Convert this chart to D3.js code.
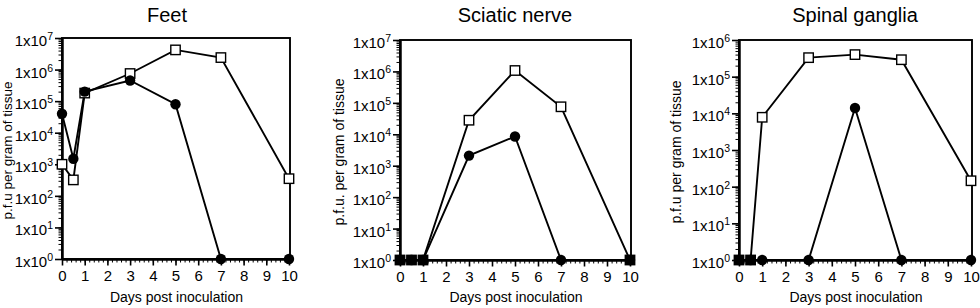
<!DOCTYPE html>
<html>
<head>
<meta charset="utf-8">
<script src="https://cdn.jsdelivr.net/npm/d3@7"></script>
<style>
  body { margin: 0; background: #fff; }
  svg { display: block; font-family: "Liberation Sans", Arial, Helvetica, sans-serif; }
  .axis path, .axis line { stroke: #000; }
  .axis text { font-size: 15px; fill: #000; }
</style>
</head>
<body>
<div id="chart"></div>
<script>
// days sampled (same for every panel)
var days = [0, 0.5, 1, 3, 5, 7, 10];
var xTickLabels = [0, 1, 2, 3, 4, 5, 6, 7, 8, 9, 10];

// p.f.u. per gram of tissue, filled circles and open squares
var feetCircles    = [4e4, 1.5e3, 2e5, 4.5e5, 8e4, 1, 1];
var feetSquares    = [1e3, 3.2e2, 1.8e5, 7.5e5, 4.2e6, 2.4e6, 3.5e2];
var sciaticCircles = [1, 1, 1, 2.1e3, 8.5e3, 1, 1];
var sciaticSquares = [1, 1, 1, 2.8e4, 1.07e6, 7.5e4, 1];
var spinalCircles  = [1, 1, 1, 1, 1.4e4, 1, 1];
var spinalSquares  = [1, 1, 7.8e3, 3.3e5, 4e5, 2.9e5, 1.45e2];

var titles = ["Feet", "Sciatic nerve", "Spinal ganglia"];
var yLabels = ["p.f.u per gram of tissue", "p.f.u. per gram of tissue", "p.f.u per gram of tissue"];
var yMaxExp = [7, 7, 6];

// panel boxes (pixels)
var panels = [
    {left: 62, right: 289, top: 38, bottom: 259, titleX: 167, yLabX: 11.5, yLabSize: 13.5},
    {left: 400, right: 630, top: 40, bottom: 260, titleX: 515, yLabX: 344, yLabSize: 14},
    {left: 739, right: 971, top: 40, bottom: 260, titleX: 855, yLabX: 681, yLabSize: 14}
];
var circleSets = [feetCircles, sciaticCircles, spinalCircles];
var squareSets = [feetSquares, sciaticSquares, spinalSquares];

var svg = d3.select("#chart").append("svg")
    .attr("width", 980)
    .attr("height", 308);

panels.forEach(function (p, i) {
    var g = svg.append("g");

    var x = d3.scaleLinear().domain([0, 10]).range([p.left, p.right]);
    var y = d3.scaleLog().domain([1, Math.pow(10, yMaxExp[i])]).range([p.bottom, p.top]);

    // frame
    g.append("rect")
        .attr("x", p.left)
        .attr("y", p.top)
        .attr("width", p.right - p.left + 1)
        .attr("height", p.bottom - p.top)
        .attr("fill", "none")
        .attr("stroke", "#000")
        .attr("stroke-width", 1.9);

    // minor x ticks
    g.append("g")
        .attr("class", "axis")
        .attr("transform", "translate(0," + p.bottom + ")")
        .call(d3.axisBottom(x).tickValues(x.ticks(50)).tickSize(3.5).tickFormat(""))
        .call(function (a) { a.select(".domain").remove(); })
        .selectAll("line").attr("stroke-width", 1);

    // major x ticks
    var xa = g.append("g")
        .attr("class", "axis")
        .attr("transform", "translate(0," + p.bottom + ")")
        .call(d3.axisBottom(x).tickValues(xTickLabels).tickSize(6.5).tickPadding(5).tickSizeOuter(0));
    xa.select(".domain").attr("stroke-width", 2.5);
    xa.selectAll("line").attr("stroke-width", 1.6);

    // minor y ticks
    g.append("g")
        .attr("class", "axis")
        .attr("transform", "translate(" + p.left + ",0)")
        .call(d3.axisLeft(y).tickValues(y.ticks()).tickSize(3.5).tickFormat(""))
        .call(function (a) { a.select(".domain").remove(); })
        .selectAll("line").attr("stroke-width", 1);

    // major y ticks
    var majors = d3.range(0, yMaxExp[i] + 1).map(function (e) { return Math.pow(10, e); });
    var ya = g.append("g")
        .attr("class", "axis")
        .attr("transform", "translate(" + p.left + ",0)")
        .call(d3.axisLeft(y).tickValues(majors).tickSize(7).tickSizeOuter(0).tickFormat(""));
    ya.select(".domain").attr("stroke-width", 2.5);
    ya.selectAll("line").attr("stroke-width", 1.6);

    // y tick labels 1x10^n
    majors.forEach(function (v) {
        var t = g.append("text")
            .attr("x", p.left - 9)
            .attr("y", y(v) + 8)
            .attr("text-anchor", "end")
            .attr("font-size", 15);
        t.append("tspan").text("1x10");
        t.append("tspan")
            .attr("font-size", 10.5)
            .attr("dy", -6)
            .text(Math.round(Math.log10(v)));
    });

    // title
    g.append("text")
        .attr("x", p.titleX)
        .attr("y", 22)
        .attr("text-anchor", "middle")
        .attr("font-size", 20)
        .text(titles[i]);

    // x label
    g.append("text")
        .attr("x", (p.left + p.right) / 2 + 1)
        .attr("y", 302)
        .attr("text-anchor", "middle")
        .attr("font-size", 14)
        .text("Days post inoculation");

    // y label
    g.append("text")
        .attr("transform", "translate(" + p.yLabX + "," + ((p.top + p.bottom) / 2 + 2) + ") rotate(-90)")
        .attr("text-anchor", "middle")
        .attr("font-size", p.yLabSize)
        .text(yLabels[i]);

    var line = d3.line()
        .x(function (d) { return x(d[0]); })
        .y(function (d) { return y(d[1]); });

    var sq = days.map(function (d, k) { return [d, squareSets[i][k]]; });
    var ci = days.map(function (d, k) { return [d, circleSets[i][k]]; });

    g.append("path")
        .datum(sq)
        .attr("d", line)
        .attr("fill", "none")
        .attr("stroke", "#000")
        .attr("stroke-width", 1.9);

    g.append("path")
        .datum(ci)
        .attr("d", line)
        .attr("fill", "none")
        .attr("stroke", "#000")
        .attr("stroke-width", 1.9);

    // open squares (points at the detection floor print solid)
    g.selectAll(".sq")
        .data(sq)
        .enter()
        .append("rect")
        .attr("x", function (d) { return x(d[0]) - 4.7; })
        .attr("y", function (d) { return y(d[1]) - 4.7; })
        .attr("width", 9.4)
        .attr("height", 9.4)
        .attr("fill", function (d) { return d[1] <= 1 ? "#000" : "#fff"; })
        .attr("stroke", "#000")
        .attr("stroke-width", 1.4);

    // filled circles
    g.selectAll(".ci")
        .data(ci)
        .enter()
        .append("circle")
        .attr("cx", function (d) { return x(d[0]); })
        .attr("cy", function (d) { return y(d[1]); })
        .attr("r", 5.2)
        .attr("fill", "#000");
});
</script>
</body>
</html>
